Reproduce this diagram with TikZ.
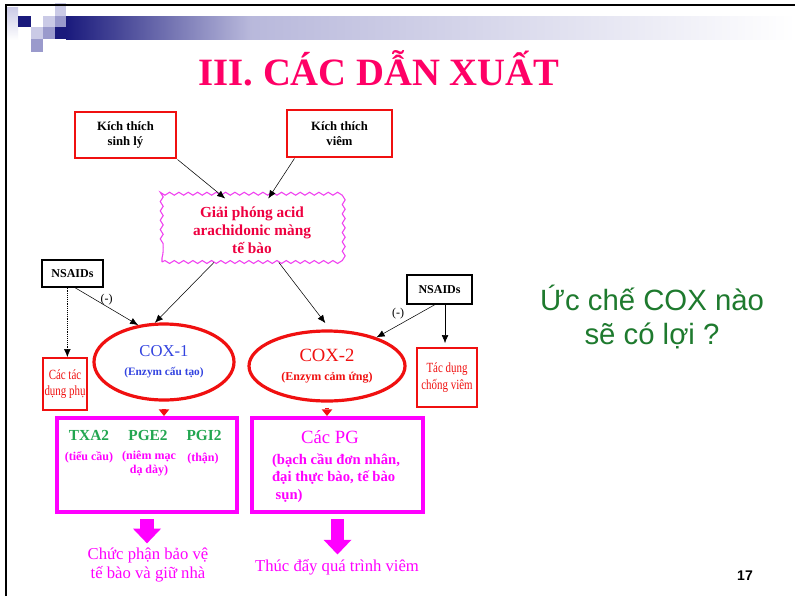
\documentclass[tikz,border=0pt]{standalone}
\usepackage{fontspec}
\setmainfont{Liberation Serif}
\newfontfamily\slidesans{Liberation Sans}
\newfontfamily\narrowserif[FakeStretch=0.78]{Liberation Serif}
\usetikzlibrary{arrows.meta,decorations.pathmorphing,shapes.geometric}
\newcommand{\fsz}[2]{\fontsize{#1}{#2}\selectfont}
\definecolor{titlepink}{HTML}{FF0066}
\definecolor{boxred}{HTML}{F01010}
\definecolor{wavepink}{HTML}{F040F0}
\definecolor{releasered}{HTML}{EE0040}
\definecolor{coxblue}{HTML}{3344E0}
\definecolor{pgmagenta}{HTML}{FF00FF}
\definecolor{pggreen}{HTML}{22A650}
\definecolor{askgreen}{HTML}{1E7A2E}
\definecolor{deconavy}{HTML}{1A1A7C}
\definecolor{decomid}{HTML}{9A9ACC}
\definecolor{decolight}{HTML}{CACAE6}

\begin{document}
\begin{tikzpicture}[
  x=0.75pt, y=-0.75pt,
  stim/.style={draw=boxred, line width=2.2pt, align=center, font=\bfseries\fsz{9.5pt}{11.5pt}},
  drug/.style={draw=black, line width=1pt, font=\bfseries\fsz{9pt}{10pt}},
  effect/.style={draw=boxred, line width=1.3pt, align=center, inner sep=1pt, text=boxred, font=\narrowserif\fsz{10.5pt}{12.5pt}},
  enzyme/.style={ellipse, draw=boxred, line width=2.4pt, align=center, inner sep=0pt},
  pgbox/.style={draw=pgmagenta, line width=3pt},
  pgname/.style={font=\bfseries\fsz{11.5pt}{13pt}, text=pggreen},
  pgsite/.style={font=\bfseries\fsz{9pt}{10.5pt}, text=pgmagenta, align=center},
  outcome/.style={font=\fsz{12.5pt}{14pt}, text=pgmagenta, align=center},
  arrow/.style={-{Latex[length=6pt,width=5pt]}, thin, draw=black},
  redtick/.style={-{Triangle[length=5pt,width=8pt,line width=0pt]}, line width=2.5pt, draw=boxred},
  bigdown/.style={-{Triangle[length=11pt,width=21pt,line width=0pt]}, line width=10pt, draw=pgmagenta},
  minus/.style={font=\fsz{9pt}{10pt}, inner sep=1pt}
]
\useasboundingbox (0,0) rectangle (795,596);
\fill[white] (0,0) rectangle (795,596);

% slide frame and corner squares
\shade[left color=deconavy, right color=decomid!70] (66,16) rectangle (250,39);
\shade[left color=decomid!70, right color=white] (250,16) rectangle (795,39);
\shade[top color=decolight, bottom color=white] (7,7) rectangle (18,40);
\fill[deconavy] (18,16) rectangle (31,27);
\fill[decolight] (43,16) rectangle (55,27);
\fill[decolight] (55,3) rectangle (66,16);
\fill[decomid] (55,16) rectangle (66,27);
\fill[deconavy] (55,27) rectangle (66,39);
\fill[decolight] (31,27) rectangle (43,39);
\fill[decomid] (43,27) rectangle (55,39);
\fill[decomid] (31,39) rectangle (43,52);
\draw[line width=2pt] (6,596) -- (6,5) -- (795,5);

\node[font=\bfseries\fsz{29pt}{33pt}, text=titlepink, anchor=base] (title) at (379,85) {III. CÁC DẪN XUẤT};

% stimuli and release
\node[stim, minimum width=75.75pt, minimum height=34.5pt] (sinhly) at (125.5,135) {Kích thích\\sinh lý};
\node[stim, minimum width=78.75pt, minimum height=35.25pt] (viem) at (339.5,133.5) {Kích thích\\viêm};
\node[draw=wavepink, line width=0.8pt, decorate, decoration={snake, segment length=7pt, amplitude=1.1pt},
  minimum width=135pt, minimum height=47.25pt, align=center, text=releasered,
  font=\bfseries\fsz{11.5pt}{13.5pt}] (giaiphong) at (252,230.5) {Giải phóng acid\\arachidonic màng\\tế bào};

\draw[arrow] (sinhly.south east) -- (giaiphong.130);
\draw[arrow] (viem.209) -- (giaiphong.63);

% enzymes
\node[enzyme, minimum width=105pt, minimum height=57pt, text=coxblue] (cox1) at (164,362)
  {{\fsz{12.5pt}{14pt}COX-1}\\[2pt]{\bfseries\fsz{8.5pt}{10pt}(Enzym cấu tạo)}};
\node[enzyme, minimum width=117pt, minimum height=52.5pt, text=boxred] (cox2) at (327,366)
  {{\fsz{14pt}{15pt}COX-2}\\[2pt]{\bfseries\fsz{9pt}{10pt}(Enzym cảm ứng)}};

\draw[arrow] (giaiphong.220) -- (cox1.103);
\draw[arrow, shorten >=6pt] (giaiphong.-50) -- (cox2.85);

% NSAIDs
\node[drug, minimum width=45.75pt, minimum height=20.25pt] (nsaidL) at (72.5,273.5) {NSAIDs};
\node[drug, minimum width=48.75pt, minimum height=21.75pt] (nsaidR) at (439.5,289.5) {NSAIDs};
\node[effect, minimum width=31.5pt, minimum height=39pt] (phu) at (65,384) {Các tác\\dụng phụ};
\node[effect, minimum width=45pt, minimum height=44.25pt] (chongviem) at (447,377.5) {Tác dụng\\chống viêm};

\draw[arrow] (nsaidL.-80) -- node[minus, above] (minusL) {(-)} (cox1.125);
\draw[arrow, densely dotted] (nsaidL.250) -- (nsaidL.250 |- phu.north);
\draw[arrow] (nsaidR.253) -- node[minus, above left=0pt] (minusR) {(-)} (cox2.30);
\draw[arrow, shorten >=3pt] (nsaidR.290) -- (nsaidR.290 |- chongviem.north);

% products
\node[pgbox, minimum width=135pt, minimum height=70.5pt] (pgleft) at (147,465) {};
\node[pgbox, minimum width=128.25pt, minimum height=70.5pt] (pgright) at (337.5,465) {};

\draw[redtick, shorten <=7pt] (cox1.south) -- (cox1.south |- pgleft.north);
\draw[redtick, shorten <=4pt] (cox2.south) -- (cox2.south |- pgright.north);

\node[pgname] (txa) at (89,435) {TXA2};
\node[pgname] (pge) at (148,435) {PGE2};
\node[pgname] (pgi) at (204,435) {PGI2};
\node[pgsite] (tieucau) at (89,457) {(tiểu cầu)};
\node[pgsite] (niemmac) at (149,464) {(niêm mạc\\dạ dày)};
\node[pgsite] (than) at (203,459) {(thận)};

\node[font=\fsz{14pt}{16pt}, text=pgmagenta] (cacpg) at (330,437) {Các PG};
\node[font=\bfseries\fsz{11pt}{13pt}, text=pgmagenta, align=left] (bachcau) at (336,478)
  {(bạch cầu đơn nhân,\\đại thực bào, tế bào\\\ sụn)};

\node[outcome] (chucnang) at (148,565) {Chức phận bảo vệ\\tế bào và giữ nhà};
\node[outcome] (thucday) at (337,567) {Thúc đẩy quá trình viêm};

\draw[bigdown, shorten <=4pt] (pgleft.south) -- (pgleft.south |- chucnang.north);
\draw[bigdown, shorten <=4pt] (pgright.south) -- (pgright.south |- thucday.north);

% question
\node[font=\slidesans\fsz{22pt}{26pt}, text=askgreen, align=center] (question) at (652,317) {Ức chế COX nào\\sẽ có lợi ?};
\node[font=\slidesans\bfseries\fsz{10.5pt}{12pt}] (pagenum) at (745,576) {17};
\end{tikzpicture}
\end{document}
